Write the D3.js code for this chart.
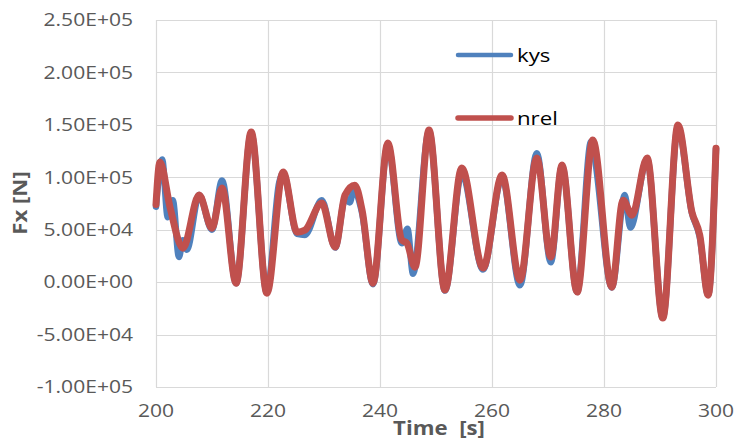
<!DOCTYPE html>
<html>
<head>
<meta charset="utf-8">
<script src="https://cdn.jsdelivr.net/npm/d3@7"></script>
<style>
html,body{margin:0;padding:0;background:#fff;}
svg{display:block;}
text{font-family:"Open Sans",sans-serif;}
</style>
</head>
<body>
<svg id="chart" width="735" height="441"></svg>
<script>
// ---- data ----
const kysTime = [200.0,201.1,202.1,203.0,204.1,204.8,205.5,207.7,210.0,211.8,214.3,217.0,219.8,222.0,222.7,225.2,226.6,229.6,232.0,233.8,234.6,235.3,236.8,238.75,241.4,243.9,244.9,245.9,248.75,251.6,254.6,258.4,261.8,265.0,268.0,270.5,272.5,275.2,277.7,278.3,281.4,283.7,284.7,287.7,290.5,293.2,295.7,297.1,298.6,300.0];
const kysValue = [72000,117000,62000,78000,24000,40000,31000,83000,50000,97000,-1000,142000,-10000,95000,104000,46000,45000,78000,33000,80000,76000,88000,66000,-2000,131000,37000,51000,8000,144000,-8000,104000,12000,100000,-3000,123000,19000,111000,-9500,134000,120000,-5000,83000,52000,117000,-34000,148000,66000,43000,-12000,127000];

const nrelTime = [200.0,200.7,202.5,204.8,207.7,210.0,211.8,214.3,217.0,219.8,222.7,225.2,226.6,229.6,232.0,233.75,235.5,236.8,238.75,241.4,243.9,244.8,246.25,248.75,251.6,254.6,258.4,261.8,265.0,268.0,270.5,272.5,275.2,278.0,281.4,283.4,285.0,287.7,290.5,293.2,295.7,297.1,298.6,300.0];
const nrelValue = [74000,114500,71600,32400,83000,51500,89700,-1000,143100,-10500,105000,47700,49600,75400,33400,83000,92500,68700,-1000,132600,40100,37200,14300,145000,-7600,108800,13400,102100,1900,118300,23900,111600,-9500,135500,-4800,78200,63900,118300,-34300,149800,66800,44800,-12400,127800];

const xTicks = [200,220,240,260,280,300];
const yTicks = [-100000,-50000,0,50000,100000,150000,200000,250000];
const seriesNames = ["kys","nrel"];
const seriesColors = ["#4F81BD","#C0504D"];

// ---- chart ----
const svg = d3.select("#chart");
const x = d3.scaleLinear().domain([200,300]).range([156,716]);
const y = d3.scaleLinear().domain([-100000,250000]).range([387,20]);

function fmtE(v){
  let s = v.toExponential(2); // e.g. 2.50e+5
  let [m,e] = s.split("e");
  let sign = e[0];
  let digits = e.slice(1).padStart(2,"0");
  return m + "E" + sign + digits;
}

// gridlines
svg.append("g").selectAll("line.h").data(yTicks).join("line")
  .attr("x1",x(200)).attr("x2",x(300))
  .attr("y1",d=>Math.round(y(d))+0.5).attr("y2",d=>Math.round(y(d))+0.5)
  .attr("stroke","#d9d9d9").attr("stroke-width",1.2);
svg.append("g").selectAll("line.v").data(xTicks).join("line")
  .attr("x1",d=>Math.round(x(d))+0.5).attr("x2",d=>Math.round(x(d))+0.5)
  .attr("y1",y(250000)).attr("y2",y(-100000))
  .attr("stroke","#d9d9d9").attr("stroke-width",1.2);

// y tick labels
const sx = 1.17;
svg.append("g").selectAll("text").data(yTicks).join("text")
  .attr("transform",d=>`translate(133,${y(d)}) scale(${sx},1)`)
  .attr("text-anchor","end").attr("dy","0.35em")
  .attr("font-size",18).attr("fill","#595959")
  .text(d=>fmtE(d));

// x tick labels
svg.append("g").selectAll("text").data(xTicks).join("text")
  .attr("transform",d=>`translate(${x(d)},411) scale(${sx},1)`)
  .attr("text-anchor","middle").attr("dy","0.35em")
  .attr("font-size",18).attr("fill","#595959")
  .text(d=>d);

// axis titles
svg.append("text")
  .attr("transform",`translate(439,428) scale(${sx},1)`)
  .attr("text-anchor","middle").attr("dy","0.35em")
  .attr("font-size",19).attr("font-weight","bold").attr("fill","#595959")
  .style("white-space","pre")
  .text("Time  [s]");
svg.append("text")
  .attr("transform",`translate(20,203) rotate(-90) scale(${sx},1)`)
  .attr("text-anchor","middle").attr("dy","0.35em")
  .attr("font-size",19).attr("font-weight","bold").attr("fill","#595959")
  .text("Fx [N]");

// lines
const line = d3.line().x(d=>x(d[0])).y(d=>y(d[1])).curve(d3.curveMonotoneX);
const kysData = kysTime.map((t,i)=>[t,kysValue[i]]);
const nrelData = nrelTime.map((t,i)=>[t,nrelValue[i]]);
svg.append("path").datum(kysData).attr("d",line)
  .attr("fill","none").attr("stroke",seriesColors[0]).attr("stroke-width",6.5)
  .attr("stroke-linejoin","round").attr("stroke-linecap","round");
svg.append("path").datum(nrelData).attr("d",line)
  .attr("fill","none").attr("stroke",seriesColors[1]).attr("stroke-width",7)
  .attr("stroke-linejoin","round").attr("stroke-linecap","round");

// legend
const legY = [55,118];
const legW = [4.5,5.5];
const leg = svg.append("g");
seriesNames.forEach((n,i)=>{
  leg.append("line").attr("x1",458).attr("x2",511).attr("y1",legY[i]).attr("y2",legY[i])
    .attr("stroke",seriesColors[i]).attr("stroke-width",legW[i]).attr("stroke-linecap","round");
  leg.append("text").attr("transform",`translate(517,${legY[i]}) scale(${sx},1)`)
    .attr("dy","0.35em").attr("font-size",19).attr("fill","#000").text(n);
});
</script>
</body>
</html>
